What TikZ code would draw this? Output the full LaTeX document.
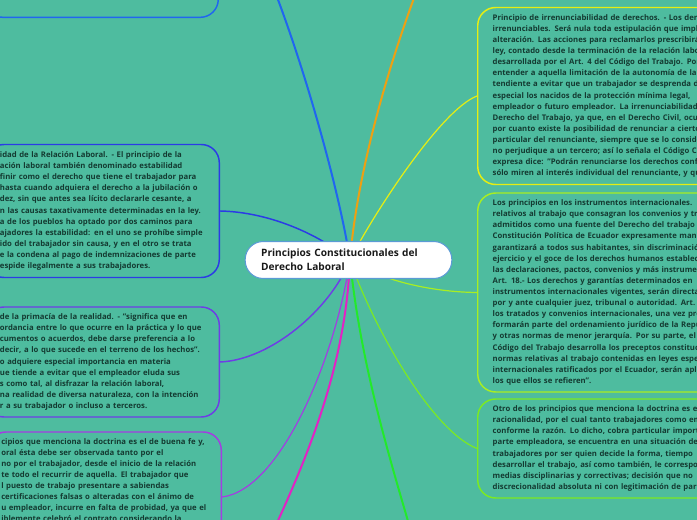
\documentclass[tikz,border=0pt]{standalone}
\usepackage{fontspec}
\setmainfont{Open Sans}
\usetikzlibrary{positioning}
\definecolor{mapbg}{HTML}{4EBC9F}
\definecolor{mapink}{HTML}{143A31}
\definecolor{hubrim}{HTML}{5B9BD5}
\definecolor{cblue}{HTML}{2066F0}
\definecolor{cindigo}{HTML}{2B3BE6}
\definecolor{cviolet}{HTML}{6E3DE6}
\definecolor{cpurple}{HTML}{A43DE2}
\definecolor{cmagenta}{HTML}{E322C4}
\definecolor{cgreen}{HTML}{22EA2A}
\definecolor{clime}{HTML}{7CEA22}
\definecolor{cchart}{HTML}{A8EE22}
\definecolor{cyellow}{HTML}{E6EE12}
\definecolor{corange}{HTML}{EEA012}
\newcommand{\mapboxfont}{\fontsize{5.8}{8.33}\selectfont\bfseries}
\newcommand{\maphubfont}{\fontsize{7.6}{10.5}\selectfont\bfseries}
\tikzset{
  topicbox/.style={draw, rounded corners=13.5pt, line width=1.1pt, fill=mapbg, text=mapink, align=left, inner xsep=11.25pt, inner ysep=0pt, font=\mapboxfont},
  leftbox/.style={topicbox, anchor=east, inner xsep=10.5pt, text width=154pt},
  rightbox/.style={topicbox, anchor=west, text width=250pt},
  hubnode/.style={draw=hubrim, line width=0.8pt, fill=white, rounded corners=13.5pt, minimum width=155pt, minimum height=27.75pt, text width=131pt, inner xsep=12pt, align=left, text=black!90, font=\maphubfont},
  thinlink/.style={line width=0.9pt},
  thicklink/.style={line width=1.5pt}
}

\begin{document}
\begin{tikzpicture}[x=0.75pt, y=-0.75pt]
  \begin{scope}
  \clip (0,0) rectangle (697,520);
  \fill[mapbg] (0,0) rectangle (697,520);
  \coordinate (hub) at (350,260);
  \coordinate (offtop) at (450,-90);
  \coordinate (offlow) at (425,580);
  \coordinate (offleft) at (250,580);

  % ramas
  \node[leftbox, draw=cblue, minimum height=185pt] (estab0) at (219,-106) {};
  \node[leftbox, draw=cindigo, minimum height=99.75pt] (estab) at (220,211) {idad de la Relación Laboral. - El principio de la\\
ación laboral también denominado estabilidad\\
finir como el derecho que tiene el trabajador para\\
hasta cuando adquiera el derecho a la jubilación o\\
dez, sin que antes sea lícito declararle cesante, a\\
n las causas taxativamente determinadas en la ley.\\
a de los pueblos ha optado por dos caminos para\\
ajadores la estabilidad: en el uno se prohíbe simple\\
ido del trabajador sin causa, y en el otro se trata\\
e la condena al pago de indemnizaciones de parte\\
espide ilegalmente a sus trabajadores.};
  \node[leftbox, draw=cviolet, minimum height=82.5pt] (primacia) at (220,362) {de la primacía de la realidad. - "significa que en\\
ordancia entre lo que ocurre en la práctica y lo que\\
cumentos o acuerdos, debe darse preferencia a lo\\
decir, a lo que sucede en el terreno de los hechos".\\
o adquiere especial importancia en materia\\
ue tiende a evitar que el empleador eluda sus\\
s como tal, al disfrazar la relación laboral,\\
na realidad de diversa naturaleza, con la intención\\
r a su trabajador o incluso a terceros.};
  \node[leftbox, draw=cpurple, minimum height=97.5pt] (buenafe) at (222,497) {};
  \node[anchor=north west, inner sep=0pt, text width=165pt, align=left, text=mapink, font=\mapboxfont] (buenafetxt) at (1,438) {cipios que menciona la doctrina es el de buena fe y,\\
oral ésta debe ser observada tanto por el\\
no por el trabajador, desde el inicio de la relación\\
te todo el recurrir de aquella. El trabajador que\\
l puesto de trabajo presentare a sabiendas\\
certificaciones falsas o alteradas con el ánimo de\\
u empleador, incurre en falta de probidad, ya que el\\
iblemente celebró el contrato considerando la};

  \node[rightbox, draw=cyellow, minimum height=132.75pt] (irren) at (477,96) {Principio de irrenunciabilidad de derechos. - Los derechos\\
irrenunciables. Será nula toda estipulación que implique\\
alteración. Las acciones para reclamarlos prescribirán\\
ley, contado desde la terminación de la relación laboral\\
desarrollada por el Art. 4 del Código del Trabajo. Por\\
entender a aquella limitación de la autonomía de la\\
tendiente a evitar que un trabajador se desprenda de\\
especial los nacidos de la protección mínima legal,\\
empleador o futuro empleador. La irrenunciabilidad\\
Derecho del Trabajo, ya que, en el Derecho Civil, ocurre\\
por cuanto existe la posibilidad de renunciar a ciertos\\
particular del renunciante, siempre que se lo considere\\
no perjudique a un tercero; así lo señala el Código Civil\\
expresa dice: "Podrán renunciarse los derechos conferidos\\
sólo miren al interés individual del renunciante, y que};
  \node[rightbox, draw=cchart, minimum height=149.25pt] (intern) at (477,292.5) {Los principios en los instrumentos internacionales.\\
relativos al trabajo que consagran los convenios y tratados\\
admitidos como una fuente del Derecho del trabajo\\
Constitución Política de Ecuador expresamente manda\\
garantizará a todos sus habitantes, sin discriminación\\
ejercicio y el goce de los derechos humanos establecidos\\
las declaraciones, pactos, convenios y más instrumentos\\
Art. 18.- Los derechos y garantías determinados en\\
instrumentos internacionales vigentes, serán directa\\
por y ante cualquier juez, tribunal o autoridad. Art.\\
los tratados y convenios internacionales, una vez promulgados\\
formarán parte del ordenamiento jurídico de la República\\
y otras normas de menor jerarquía. Por su parte, el\\
Código del Trabajo desarrolla los preceptos constitucionales\\
normas relativas al trabajo contenidas en leyes especiales\\
internacionales ratificados por el Ecuador, serán aplicadas\\
los que ellos se refieren".};
  \node[rightbox, draw=clime, minimum height=74.25pt] (racion) at (477,448.5) {Otro de los principios que menciona la doctrina es el\\
racionalidad, por el cual tanto trabajadores como empleadores\\
conforme la razón. Lo dicho, cobra particular importancia\\
parte empleadora, se encuentra en una situación de\\
trabajadores por ser quien decide la forma, tiempo\\
desarrollar el trabajo, así como también, le corresponde\\
medias disciplinarias y correctivas; decisión que no\\
discrecionalidad absoluta ni con legitimación de parte};

  \draw[thicklink, cblue] (hub) .. controls (333,150) and (255,-100) .. (estab0.east);
  \draw[thicklink, corange] (hub) .. controls (358,160) and (400,20) .. (offtop);
  \draw[thinlink, cyellow] (hub) .. controls (370,220) and (440,110) .. (irren.west);
  \draw[thinlink, cchart] (hub) .. controls (380,280) and (430,292) .. (intern.west);
  \draw[thinlink, clime] (hub) .. controls (370,320) and (430,430) .. (racion.west);
  \draw[thicklink, cgreen] (hub) .. controls (362,380) and (400,490) .. (offlow);
  \draw[thicklink, cmagenta] (hub) .. controls (345,380) and (298,480) .. (offleft);
  \draw[thinlink, cpurple] (hub) .. controls (335,360) and (280,490) .. (buenafe.east);
  \draw[line width=1.1pt, cviolet] (hub) .. controls (330,310) and (270,360) .. (primacia.east);
  \draw[line width=1.1pt, cindigo] (hub) .. controls (320,235) and (270,212) .. (estab.east);

  \node[hubnode] (centro) at (348.5,260) {Principios Constitucionales del\\Derecho Laboral};
  \end{scope}
  \pgfresetboundingbox
  \useasboundingbox (0,0) rectangle (697,520);
\end{tikzpicture}
\end{document}
